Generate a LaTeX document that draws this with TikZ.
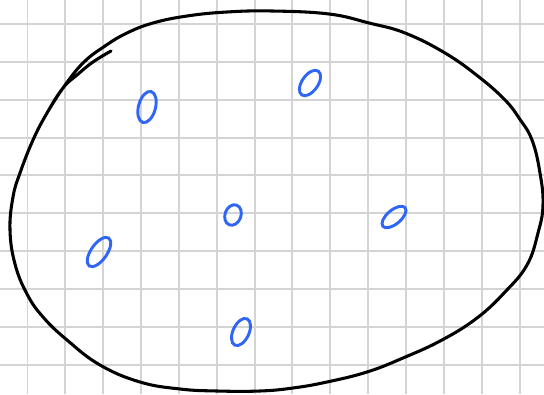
\documentclass[tikz,border=0pt]{standalone}
\usepackage{xcolor}
\definecolor{paperGrey}{RGB}{212,212,212}
\definecolor{penBlue}{RGB}{48,102,245}
\usepackage{tikz}

\tikzset{
  gridline/.style={draw=paperGrey, line width=1.5pt},
  outline/.style={draw=black, line width=2.3pt, line cap=round, line join=round},
  zero/.style={draw=penBlue, line width=2.2pt, line cap=round}
}

\begin{document}
\begin{tikzpicture}[x=0.0264cm, y=-0.0264cm]
\useasboundingbox (0,0) rectangle (544,394);
\fill[white] (0,0) rectangle (544,394);
% squared paper
\foreach \k in {0,...,13} \draw[gridline] (27.5+37.85*\k,0) -- (27.5+37.85*\k,394);
\foreach \k in {0,...,9} \draw[gridline] (0,24+37.85*\k) -- (544,24+37.85*\k);
% the closed loop
\draw[outline] plot[smooth, tension=0.7] coordinates {
  (111,51) (93,62) (77,75) (63,88) (47,113) (33,140) (20,173) (13,197)
  (10,230) (15,264) (27,294) (43,317) (67,340) (100,365) (140,382)
  (180,389) (217,391) (260,391) (293,388) (327,382) (367,372) (403,358)
  (442,340) (477,318) (505,292) (527,265) (538,233) (543,205) (540,173)
  (532,140) (519,118) (505,100) (479,77) (445,53) (405,33) (369,23)
  (329,14) (272,11) (227,12) (187,16) (153,23) (127,33) (105,46) (83,63)
  (63,88) (47,113)};
% the six noughts
\draw[zero, rotate around={-15:(147,107)}] (147,107) ellipse (8.5 and 16);
\draw[zero, rotate around={-35:(310,83)}] (310,83) ellipse (8 and 14.5);
\draw[zero, rotate around={-20:(233,215)}] (233,215) ellipse (8 and 10.5);
\draw[zero, rotate around={-35:(99,252)}] (99,252) ellipse (8 and 17);
\draw[zero, rotate around={-25:(241,332)}] (241,332) ellipse (8 and 14.5);
\draw[zero, rotate around={-50:(394,217)}] (394,217) ellipse (7 and 14.5);
\end{tikzpicture}
\end{document}
